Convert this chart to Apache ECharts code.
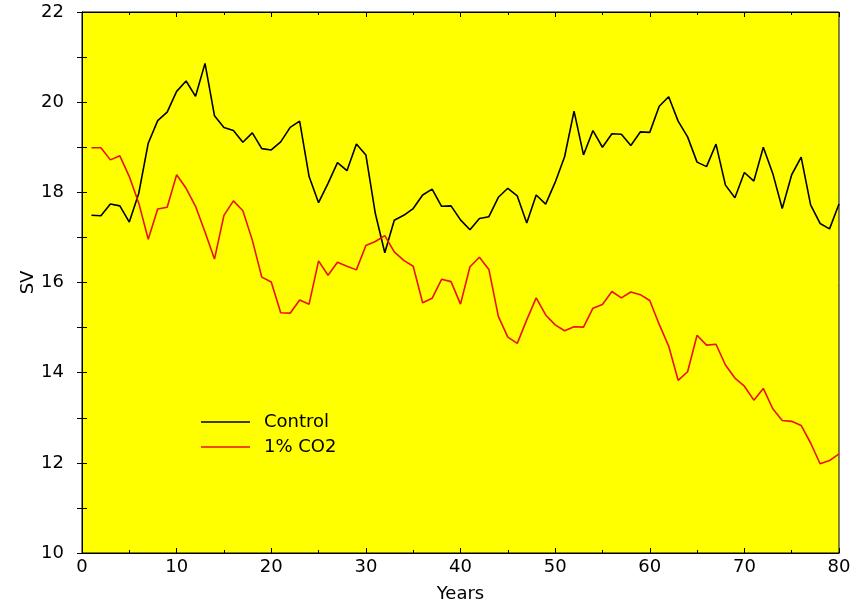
<!DOCTYPE html>
<html>
<head>
<meta charset="utf-8">
<script src="https://cdn.jsdelivr.net/npm/echarts@6/dist/echarts.min.js"></script>
<style>
  html, body { margin: 0; padding: 0; background: #ffffff; }
  #chart { width: 865px; height: 603px; }
</style>
</head>
<body>
<div id="chart"></div>
<script>
// Annual means, years 1..80
const years = Array.from({ length: 80 }, (_, i) => i + 1);

const control = [
  17.49, 17.48, 17.74, 17.70, 17.34, 17.98, 19.09, 19.59, 19.78, 20.24,
  20.47, 20.13, 20.86, 19.70, 19.44, 19.37, 19.11, 19.32, 18.97, 18.94,
  19.12, 19.44, 19.58, 18.35, 17.77, 18.20, 18.66, 18.48, 19.07, 18.83,
  17.53, 16.66, 17.38, 17.49, 17.64, 17.94, 18.07, 17.69, 17.70, 17.39,
  17.17, 17.42, 17.46, 17.89, 18.09, 17.92, 17.32, 17.94, 17.74, 18.22,
  18.79, 19.80, 18.83, 19.37, 19.00, 19.30, 19.29, 19.04, 19.34, 19.33,
  19.91, 20.12, 19.58, 19.23, 18.67, 18.57, 19.07, 18.16, 17.88, 18.44,
  18.25, 19.00, 18.42, 17.64, 18.39, 18.78, 17.72, 17.31, 17.19, 17.74
];

const co2 = [
  18.99, 18.99, 18.72, 18.81, 18.35, 17.76, 16.96, 17.63, 17.67, 18.39,
  18.09, 17.69, 17.12, 16.52, 17.49, 17.81, 17.59, 16.94, 16.12, 16.01,
  15.33, 15.32, 15.61, 15.52, 16.48, 16.16, 16.45, 16.36, 16.28, 16.82,
  16.91, 17.04, 16.68, 16.49, 16.36, 15.55, 15.65, 16.07, 16.02, 15.52,
  16.35, 16.56, 16.29, 15.25, 14.79, 14.65, 15.17, 15.66, 15.28, 15.06,
  14.93, 15.02, 15.01, 15.43, 15.51, 15.80, 15.66, 15.79, 15.73, 15.60,
  15.07, 14.59, 13.83, 14.02, 14.83, 14.61, 14.63, 14.17, 13.88, 13.70,
  13.39, 13.65, 13.20, 12.94, 12.92, 12.83, 12.44, 11.98, 12.05, 12.20
];

const seriesNames = ['Control', '1% CO2'];
const xLabel = 'Years';
const yLabel = 'SV';

const font = '"DejaVu Sans", "Liberation Sans", sans-serif';
const fontSize = 18;
const tickCommon = {
  axisLine: { show: true, lineStyle: { color: '#000', width: 1 } },
  splitLine: { show: false }
};

const chart = echarts.init(document.getElementById('chart'), null, { renderer: 'canvas' });

chart.setOption({
  backgroundColor: '#ffffff',
  animation: false,
  grid: {
    left: 82, right: 26, top: 12, bottom: 50,
    outerBoundsMode: 'none',
    containLabel: false,
    show: true, backgroundColor: '#ffff00', borderColor: '#000', borderWidth: 1
  },
  legend: {
    orient: 'vertical',
    left: 196, top: 408,
    icon: 'rect',
    itemWidth: 49, itemHeight: 1.5, itemGap: 7,
    textStyle: { fontFamily: font, fontSize: fontSize, color: '#000', padding: [0, 0, 0, 9] },
    data: seriesNames
  },
  xAxis: [
    Object.assign({
      type: 'value', position: 'bottom', min: 0, max: 80, interval: 10,
      name: xLabel, nameLocation: 'middle', nameGap: 32, nameMoveOverlap: false,
      nameTextStyle: { fontFamily: font, fontSize: fontSize, color: '#000' },
      axisTick: { inside: true, length: 5, lineStyle: { color: '#000' } },
      minorTick: { show: true, splitNumber: 2, length: 3, lineStyle: { color: '#000' } },
      axisLabel: { fontFamily: font, fontSize: fontSize, color: '#000', margin: 5 }
    }, tickCommon),
    Object.assign({
      type: 'value', position: 'top', min: 0, max: 80, interval: 10,
      axisTick: { inside: true, length: 5, lineStyle: { color: '#000' } },
      minorTick: { show: true, splitNumber: 2, length: 3, lineStyle: { color: '#000' } },
      axisLabel: { show: false }
    }, tickCommon)
  ],
  yAxis: [
    Object.assign({
      type: 'value', position: 'left', min: 10, max: 22, interval: 2,
      name: yLabel, nameLocation: 'middle', nameGap: 45, nameRotate: 90, nameMoveOverlap: false,
      nameTextStyle: { fontFamily: font, fontSize: fontSize, color: '#000' },
      axisTick: { inside: true, length: 5, lineStyle: { color: '#000' } },
      minorTick: { show: true, splitNumber: 2, length: 5, lineStyle: { color: '#000' } },
      axisLabel: { fontFamily: font, fontSize: fontSize, color: '#000', margin: 18 }
    }, tickCommon),
    Object.assign({
      type: 'value', position: 'right', min: 10, max: 22, interval: 2,
      axisTick: { inside: true, length: 5, lineStyle: { color: '#000' } },
      minorTick: { show: true, splitNumber: 2, length: 5, lineStyle: { color: '#000' } },
      axisLabel: { show: false }
    }, tickCommon)
  ],
  series: [
    {
      name: seriesNames[0], type: 'line', xAxisIndex: 0, yAxisIndex: 0,
      symbol: 'none', color: '#000000',
      lineStyle: { color: '#000000', width: 1.6 },
      data: years.map((y, i) => [y, control[i]])
    },
    {
      name: seriesNames[1], type: 'line', xAxisIndex: 0, yAxisIndex: 0,
      symbol: 'none', color: '#ec1010',
      lineStyle: { color: '#ec1010', width: 1.6 },
      data: years.map((y, i) => [y, co2[i]])
    }
  ]
});
</script>
</body>
</html>
